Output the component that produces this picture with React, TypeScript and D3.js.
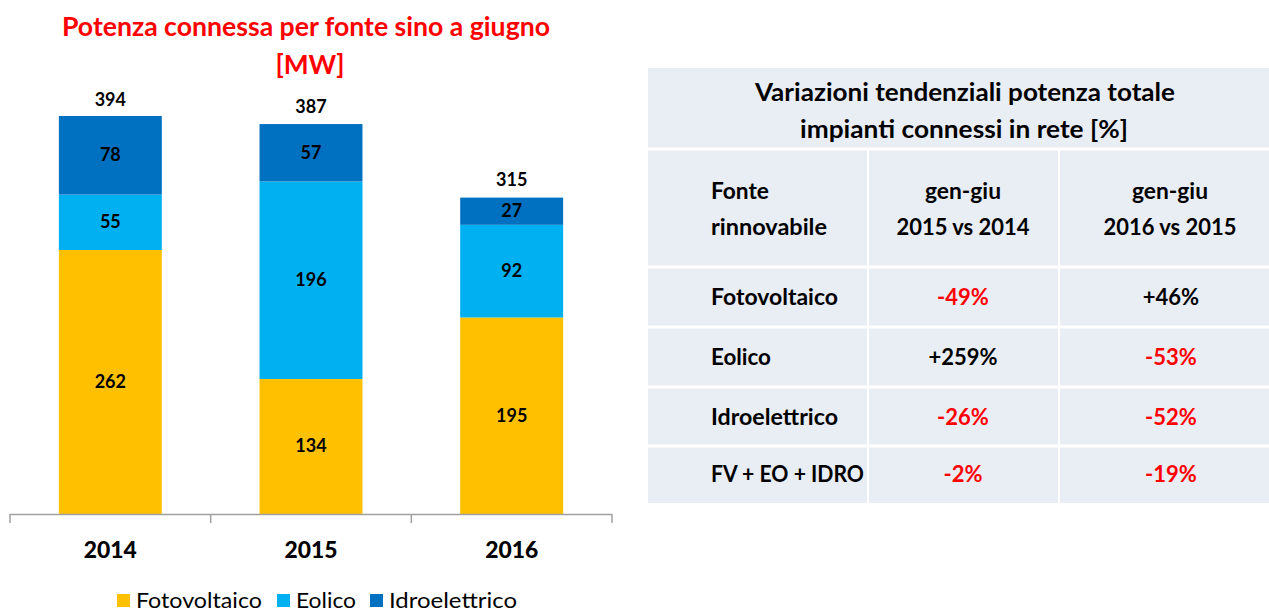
import React from "react";
import * as d3 from "d3";

const years = ["2014", "2015", "2016"];
const seriesNames = ["Fotovoltaico", "Eolico", "Idroelettrico"];
const fotovoltaico = [262, 134, 195];
const eolico = [55, 196, 92];
const idroelettrico = [78, 57, 27];
const totals = [394, 387, 315];
const seriesColors = ["#FFC000", "#00B0F0", "#0070C0"];

const tableTitle = ["Variazioni tendenziali potenza totale", "impianti connessi in rete [%]"];
const tableHeaders = [["Fonte", "rinnovabile"], ["gen-giu", "2015 vs 2014"], ["gen-giu", "2016 vs 2015"]];
const rowLabels = ["Fotovoltaico", "Eolico", "Idroelettrico", "FV + EO + IDRO"];
const var2015vs2014 = ["-49%", "+259%", "-26%", "-2%"];
const var2016vs2015 = ["+46%", "-53%", "-52%", "-19%"];

const FONT = "Lato, 'Open Sans', sans-serif";

export default function App() {
  const W = 1269, H = 613;
  const rows = years.map((y, i) => ({
    year: y,
    Fotovoltaico: fotovoltaico[i],
    Eolico: eolico[i],
    Idroelettrico: idroelettrico[i],
  }));
  const stack = d3.stack<any>().keys(seriesNames)(rows);
  const x = d3.scaleBand().domain(years).range([10, 612]).paddingInner(0.487).paddingOuter(0.2435);
  const y = d3.scaleLinear().domain([0, 394]).range([514, 117]);
  const step = x.step();
  const tickXs = [0, 1, 2, 3].map((i) => 10 + i * step);

  // table geometry
  const tx0 = 648, tx1 = 1269;
  const colX = [648, 869, 1060, 1269];
  const rowY = [68, 150, 268, 328, 388, 447, 503];
  const tableBg = "#E9EDF4";
  const cellValues = [var2015vs2014, var2016vs2015];

  const colorFor = (v: string) => (v.startsWith("-") ? "#FF0000" : "#000000");

  return (
    <svg width={W} height={H} style={{ display: "block", position: "absolute", left: 0, top: 0 }} fontFamily={FONT}>
      <rect x={0} y={0} width={W} height={H} fill="#fff" />
      {/* title */}
      <text x={306} y={36} textAnchor="middle" fontSize={27} fontWeight="bold" fill="#FF0000" textLength={488} lengthAdjust="spacingAndGlyphs">
        Potenza connessa per fonte sino a giugno
      </text>
      <text x={310} y={74} textAnchor="middle" fontSize={27} fontWeight="bold" fill="#FF0000" textLength={69} lengthAdjust="spacingAndGlyphs">
        [MW]
      </text>

      {/* bars */}
      {stack.map((s, si) => (
        <g key={s.key}>
          {s.map((d, i) => (
            <g key={i}>
              <rect
                x={x(years[i])}
                y={y(d[1])}
                width={x.bandwidth()}
                height={y(d[0]) - y(d[1])}
                fill={seriesColors[si]}
              />
              <text
                x={(x(years[i]) as number) + x.bandwidth() / 2}
                y={(y(d[0]) + y(d[1])) / 2 + 6}
                textAnchor="middle"
                fontSize={18}
                fontWeight="bold"
                fill="#000"
              >
                {d[1] - d[0]}
              </text>
            </g>
          ))}
        </g>
      ))}
      {/* totals */}
      {totals.map((t, i) => (
        <text key={i} x={(x(years[i]) as number) + x.bandwidth() / 2} y={y(t) - 11} textAnchor="middle" fontSize={18} fontWeight="bold" fill="#000">
          {t}
        </text>
      ))}

      {/* axis */}
      <line x1={10} x2={612} y1={514.5} y2={514.5} stroke="#A0A0A0" strokeWidth={1.5} />
      {tickXs.map((tx, i) => (
        <line key={i} x1={tx} x2={tx} y1={514} y2={523} stroke="#A0A0A0" strokeWidth={1.5} />
      ))}
      {years.map((yr) => (
        <text key={yr} x={(x(yr) as number) + x.bandwidth() / 2} y={558} textAnchor="middle" fontSize={23} fontWeight="900" fill="#000" textLength={53} lengthAdjust="spacingAndGlyphs">
          {yr}
        </text>
      ))}

      {/* legend */}
      {seriesNames.map((n, i) => {
        const lx = [117, 277, 370][i];
        const tw = [126, 60, 128][i];
        return (
          <g key={n}>
            <rect x={lx} y={594} width={13} height={13} fill={seriesColors[i]} />
            <text x={lx + 19} y={608} fontSize={22} fill="#000" textLength={tw} lengthAdjust="spacingAndGlyphs">
              {n}
            </text>
          </g>
        );
      })}

      {/* table */}
      <rect x={tx0} y={rowY[0]} width={tx1 - tx0} height={rowY[rowY.length - 1] - rowY[0]} fill={tableBg} />
      {rowY.slice(1, -1).map((ry, i) => (
        <line key={i} x1={tx0} x2={tx1} y1={ry - 1} y2={ry - 1} stroke="#fff" strokeWidth={3} />
      ))}
      {colX.slice(1, -1).map((cx, i) => (
        <line key={i} x1={cx - 1} x2={cx - 1} y1={rowY[1]} y2={rowY[rowY.length - 1]} stroke="#fff" strokeWidth={2} />
      ))}
      <text x={965} y={101} textAnchor="middle" fontSize={24} fontWeight="bold" fill="#000" textLength={420} lengthAdjust="spacingAndGlyphs">
        {tableTitle[0]}
      </text>
      <text x={964} y={138} textAnchor="middle" fontSize={24} fontWeight="bold" fill="#000" textLength={328} lengthAdjust="spacingAndGlyphs">
        {tableTitle[1]}
      </text>
      {/* headers */}
      <text x={711} y={199} fontSize={22} fontWeight="bold" fill="#000" textLength={58} lengthAdjust="spacingAndGlyphs">{tableHeaders[0][0]}</text>
      <text x={711} y={235} fontSize={22} fontWeight="bold" fill="#000" textLength={116} lengthAdjust="spacingAndGlyphs">{tableHeaders[0][1]}</text>
      {[1, 2].map((c) => {
        const cx = c === 1 ? 963 : 1170;
        return (
          <g key={c}>
            <text x={cx} y={199} textAnchor="middle" fontSize={22} fontWeight="bold" fill="#000" textLength={76} lengthAdjust="spacingAndGlyphs">{tableHeaders[c][0]}</text>
            <text x={cx} y={235} textAnchor="middle" fontSize={22} fontWeight="bold" fill="#000" textLength={133} lengthAdjust="spacingAndGlyphs">{tableHeaders[c][1]}</text>
          </g>
        );
      })}
      {rowLabels.map((lab, r) => {
        const cy = (rowY[r + 2] + rowY[r + 3]) / 2 + 7;
        const lw = [127, 60, 127, 153][r];
        return (
          <g key={lab}>
            <text x={711} y={cy} fontSize={22} fontWeight="bold" fill="#000" textLength={lw} lengthAdjust="spacingAndGlyphs">{lab}</text>
            {cellValues.map((vals, c) => (
              <text key={c} x={c === 0 ? 963 : 1171} y={cy} textAnchor="middle" fontSize={22} fontWeight="bold" fill={colorFor(vals[r])}>
                {vals[r]}
              </text>
            ))}
          </g>
        );
      })}
    </svg>
  );
}
